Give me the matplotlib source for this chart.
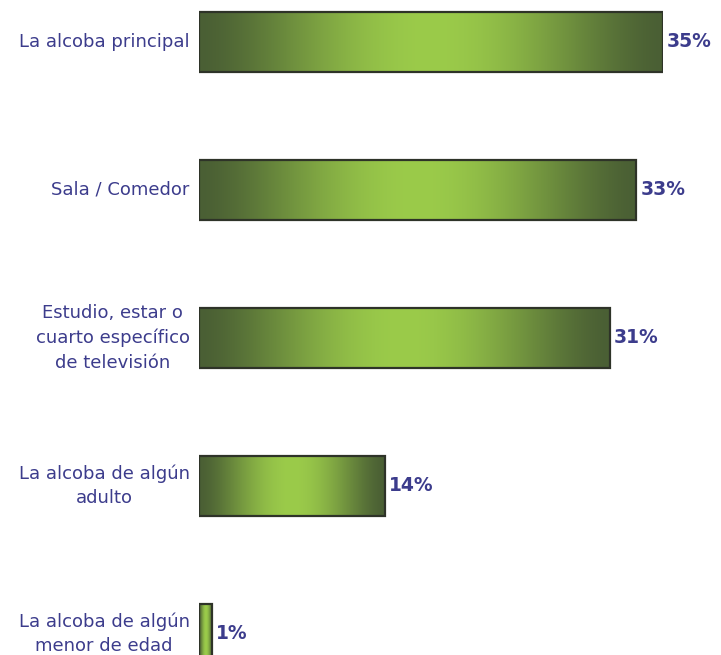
import matplotlib
matplotlib.use("Agg")
import matplotlib.pyplot as plt
import numpy as np
from matplotlib.colors import ListedColormap, to_rgb
from matplotlib.patches import Rectangle

categories = [
    "La alcoba principal",
    "Sala / Comedor",
    "Estudio, estar o\ncuarto específico\nde televisión",
    "La alcoba de algún\nadulto",
    "La alcoba de algún\nmenor de edad",
]
values = [35, 33, 31, 14, 1]
value_labels = ["35%", "33%", "31%", "14%", "1%"]

W, H = 721, 655
fig = plt.figure(figsize=(W / 100, H / 100), dpi=100)
fig.patch.set_facecolor("white")

ax_left, ax_right = 199, 663
ax = fig.add_axes([ax_left / W, 0, (ax_right - ax_left) / W, 1])
top_px, step = 42, 148

# smooth dark-bright-dark gradient
t = np.linspace(0, 1, 256)
s = np.sin(np.pi * t) ** 1.5
dark = np.array(to_rgb("#4a5f34"))
bright = np.array(to_rgb("#9bcb4a"))
cols = dark[None, :] + (bright - dark)[None, :] * s[:, None]
cmap = ListedColormap(cols)
grad = np.linspace(0, 1, 256).reshape(1, -1)
bar_h = 0.405
txt_color = "#3c3c8c"

y_pos = np.arange(len(values))
for y, v, lab, vl in zip(y_pos, values, categories, value_labels):
    ax.imshow(grad, cmap=cmap, aspect="auto",
              extent=[0, v, y + bar_h / 2, y - bar_h / 2], zorder=1,
              interpolation="bilinear")
    ax.add_patch(Rectangle((0, y - bar_h / 2), v, bar_h, fill=False,
                           edgecolor="#2e3328", linewidth=1.6, zorder=2))
    ax.text(v + 0.3, y, vl, ha="left", va="center", fontsize=13.5,
            fontweight="bold", color=txt_color)
    ax.text(-0.7, y, lab, ha="right", va="center", fontsize=13,
            color=txt_color, multialignment="center", linespacing=1.45)

ax.set_xlim(0, 35)
ax.set_ylim((H - top_px) / step, -top_px / step)
ax.axis("off")

fig.savefig("out.png", dpi=100, facecolor="white")
